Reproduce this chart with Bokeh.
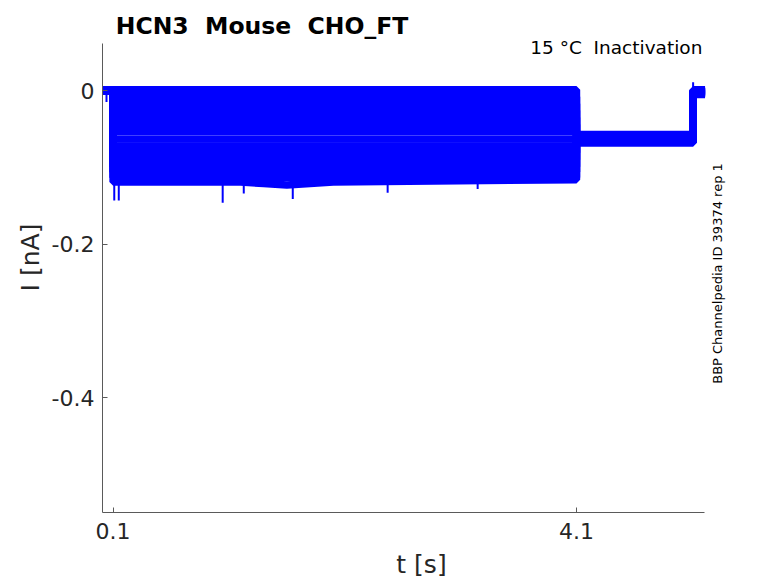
from bokeh.plotting import figure
from bokeh.models import ColumnDataSource, Label, FixedTicker
from bokeh.embed import file_html
from bokeh.resources import INLINE
import math

# protocol timing (s)
t_first = 0.0
t_on = 0.1
t_off = 4.1
t_back = 5.107
t_last = 5.21

# current levels of each sweep (nA)
pre_level = 0.0
step_levels = [0.001, -0.008, -0.017, -0.026, -0.035, -0.044, -0.053,
               -0.063, -0.072, -0.081, -0.090, -0.099, -0.106, -0.113]
tail_levels = [-0.057, -0.058, -0.059, -0.060, -0.061, -0.062, -0.062,
               -0.063, -0.064, -0.065, -0.066, -0.067, -0.067, -0.068]
post_levels = [0.001, 0.000, -0.001, -0.001, -0.002, -0.002, -0.003,
               -0.003, -0.004, -0.004, -0.005, -0.002, 0.000, -0.001]

# the deepest sweep sags a little in the middle
deep_t = [0.1, 1.2, 1.4, 1.6, 1.8, 2.0, 4.1]
deep_i = [-0.119, -0.119, -0.121, -0.123, -0.121, -0.119, -0.116]
deep_tail = -0.068
deep_post = -0.002

# biggest noise spikes (time, base, peak)
spike_t = [0.043, 0.110, 0.149, 1.046, 1.228, 1.651, 2.470, 3.247, 5.107]
spike_base = [0.0, -0.119, -0.119, -0.119, -0.120, -0.123, -0.119, -0.118, -0.060]
spike_peak = [-0.015, -0.143, -0.143, -0.146, -0.134, -0.141, -0.133, -0.128, 0.0108]

title = "HCN3 \u00a0Mouse \u00a0CHO_FT"
condition = "15 \u00b0C \u00a0Inactivation"
source_note = "BBP Channelpedia ID 39374 rep 1"
x_ticks = [0.1, 4.1]
y_ticks = [-0.4, -0.2, 0.0]
y_tick_text = {-0.4: "-0.4", -0.2: "-0.2", 0.0: "0"}
x_limits = (0.0085, 5.207)
y_limits = (-0.549, 0.0616)

xs, ys = [], []
for step, tail, post in zip(step_levels, tail_levels, post_levels):
    xs.append([t_first, t_on, t_on, t_off, t_off, t_back, t_back, t_last])
    ys.append([pre_level, pre_level, step, step, tail, tail, post, post])
xs.append([t_first, t_on] + deep_t + [t_off, t_back, t_back, t_last])
ys.append([pre_level, pre_level] + deep_i + [deep_tail, deep_tail, deep_post, deep_post])

src = ColumnDataSource(data={"xs": xs, "ys": ys})
spikes = ColumnDataSource(data={"t": spike_t, "b": spike_base, "p": spike_peak})

# frame is a bit larger than the axes so the texts around them are not clipped
p = figure(width=770, height=582, x_range=(x_limits[0], 5.516), y_range=(y_limits[0], 0.1146),
           output_backend="svg", toolbar_location=None, tools="", title=None,
           min_border_left=102, min_border_right=30, min_border_top=2, min_border_bottom=70)
p.background_fill_color = "white"
p.border_fill_color = "white"
p.outline_line_color = None
p.xgrid.visible = False
p.ygrid.visible = False

p.multi_line(xs="xs", ys="ys", source=src, line_color="#0000ff", line_width=7.5)
p.segment(x0="t", y0="b", x1="t", y1="p", source=spikes, line_color="#0000ff", line_width=2)

for ax in (p.xaxis, p.yaxis):
    ax.axis_line_color = "#5a5a5a"
    ax.major_tick_line_color = "#5a5a5a"
    ax.major_tick_in = 5
    ax.major_tick_out = 0
    ax.minor_tick_line_color = None
    ax.major_label_text_font = "DejaVu Sans"
    ax.major_label_text_font_size = "22px"
    ax.major_label_text_color = "#262626"
    ax.axis_label_text_font = "DejaVu Sans"
    ax.axis_label_text_font_size = "25px"
    ax.axis_label_text_font_style = "normal"
    ax.axis_label_text_color = "#262626"

p.xaxis.bounds = x_limits
p.xaxis.ticker = FixedTicker(ticks=x_ticks)
p.xaxis.major_label_overrides = {t: str(t) for t in x_ticks}
p.xaxis.major_label_standoff = 10
p.xaxis.axis_label = "t [s]"
p.xaxis.axis_label_standoff = 8

p.yaxis.bounds = y_limits
p.yaxis.ticker = FixedTicker(ticks=y_ticks)
p.yaxis.major_label_overrides = y_tick_text
p.yaxis.major_label_standoff = 8
p.yaxis.axis_label = "I [nA]"
p.yaxis.axis_label_standoff = 4

p.add_layout(Label(x=0.123, y=0.0834, text=title, text_align="left",
                   text_baseline="alphabetic", text_font="DejaVu Sans",
                   text_font_size="23.5px", text_font_style="bold", text_color="black"))
p.add_layout(Label(x=5.187, y=0.0564, text=condition, text_align="right",
                   text_baseline="alphabetic", text_font="DejaVu Sans",
                   text_font_size="18.5px", text_color="black"))
p.add_layout(Label(x=5.321, y=-0.238, text=source_note, angle=math.pi / 2,
                   text_align="center", text_baseline="middle", text_font="DejaVu Sans",
                   text_font_size="13px", text_color="black"))

open("out.html", "w").write(file_html(p, INLINE))
